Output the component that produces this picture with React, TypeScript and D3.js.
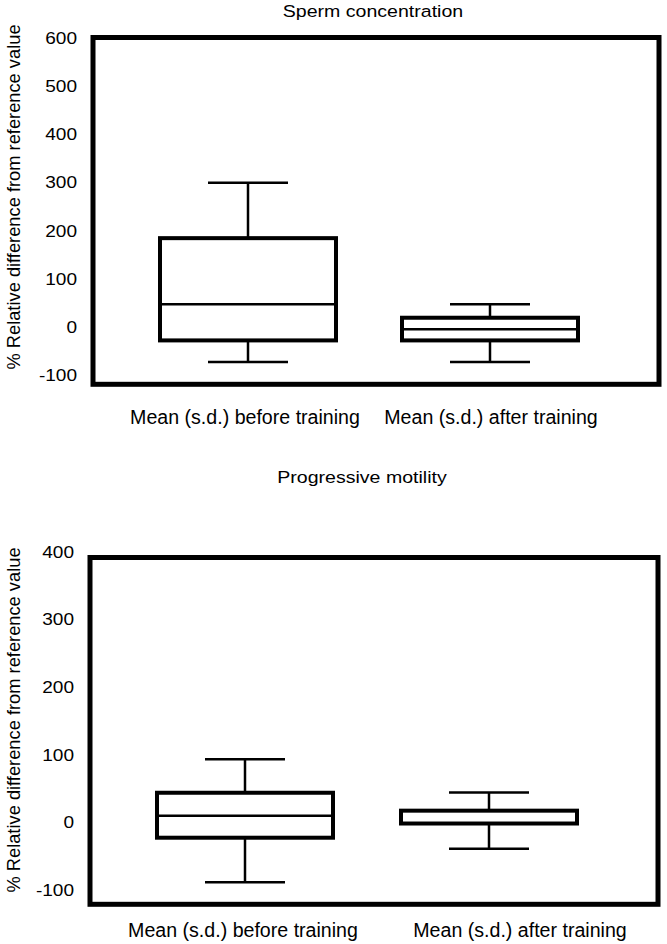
import * as d3 from 'd3';

// Categories shared by both panels
const CATEGORIES = ['Mean (s.d.) before training', 'Mean (s.d.) after training'];

// Sperm concentration (% relative difference from reference value)
const CONC_TICKS = [-100, 0, 100, 200, 300, 400, 500, 600];
const CONC_LOW = [-72, -72];
const CONC_Q1 = [-27, -27];
const CONC_MED = [48, -4];
const CONC_Q3 = [185, 20];
const CONC_HIGH = [300, 48];

// Progressive motility
const MOT_TICKS = [-100, 0, 100, 200, 300, 400];
const MOT_LOW = [-88.5, -39];
const MOT_Q1 = [-22.5, -1.5];
const MOT_MED = [10, -1.5];
const MOT_Q3 = [44, 17.5];
const MOT_HIGH = [93.5, 44.5];

const W = 667;
const H = 944;
const FONT = '"Liberation Sans", Arial, sans-serif';
const BOX_W = 176;
const CAP_W = 80;

type PanelProps = {
  title: string;
  titleX: number;
  titleY: number;
  frame: { x0: number; x1: number; y0: number; y1: number };
  domain: [number, number];
  ticks: number[];
  low: number[];
  q1: number[];
  med: number[];
  q3: number[];
  high: number[];
  labelY: number;
  labelShift: number[];
  yTitleY: number;
};

function Panel({
  title, titleX, titleY, frame, domain, ticks,
  low, q1, med, q3, high, labelY, labelShift, yTitleY,
}: PanelProps) {
  const y = d3.scaleLinear().domain(domain).range([frame.y1, frame.y0]);
  const x = d3.scalePoint<string>()
    .domain(CATEGORIES)
    .range([frame.x0 + 155, frame.x1 - 169]);

  return (
    <g>
      <text x={titleX} y={titleY} textAnchor="middle" fontSize={16.3}
        transform={`translate(${titleX},0) scale(1.2,1) translate(${-titleX},0)`}>
        {title}
      </text>

      <text
        transform={`translate(20,${yTitleY}) rotate(-90)`}
        textAnchor="middle"
        fontSize={18.3}
      >
        % Relative difference from reference value
      </text>

      {/* tick labels, no tick marks */}
      {ticks.map((t) => (
        <text key={t}
          transform={`translate(${frame.x0 - 16},${y(t) + 16 * 0.36}) scale(1.19,1)`}
          textAnchor="end" fontSize={16}>
          {t}
        </text>
      ))}

      {/* boxes */}
      {CATEGORIES.map((c, i) => {
        const cx = x(c) ?? 0;
        return (
          <g key={c} stroke="#000" fill="none">
            <line x1={cx} x2={cx} y1={y(q3[i])} y2={y(high[i])} strokeWidth={2.5} />
            <line x1={cx} x2={cx} y1={y(q1[i])} y2={y(low[i])} strokeWidth={2.5} />
            <line x1={cx - CAP_W / 2} x2={cx + CAP_W / 2} y1={y(high[i])} y2={y(high[i])} strokeWidth={2.5} />
            <line x1={cx - CAP_W / 2} x2={cx + CAP_W / 2} y1={y(low[i])} y2={y(low[i])} strokeWidth={2.5} />
            <rect x={cx - BOX_W / 2} y={y(q3[i])} width={BOX_W} height={y(q1[i]) - y(q3[i])}
              fill="#fff" strokeWidth={4} />
            <line x1={cx - BOX_W / 2} x2={cx + BOX_W / 2} y1={y(med[i])} y2={y(med[i])} strokeWidth={2.5} />
          </g>
        );
      })}

      {/* frame */}
      <rect x={frame.x0} y={frame.y0} width={frame.x1 - frame.x0} height={frame.y1 - frame.y0}
        fill="none" stroke="#000" strokeWidth={5} />

      {CATEGORIES.map((c, i) => (
        <text key={c} x={(x(c) ?? 0) + labelShift[i]} y={labelY} textAnchor="middle" fontSize={19.6}>
          {c}
        </text>
      ))}
    </g>
  );
}

export default function App() {
  return (
    <>
      <style>{'body{margin:0}'}</style>
      <svg width={W} height={H} style={{ display: 'block', background: '#fff' }}
        fontFamily={FONT} fill="#000">
        <Panel
          title="Sperm concentration"
          titleX={373}
          titleY={17}
          frame={{ x0: 93, x1: 659, y0: 37.5, y1: 384.3 }}
          domain={[-118, 601]}
          ticks={CONC_TICKS}
          low={CONC_LOW}
          q1={CONC_Q1}
          med={CONC_MED}
          q3={CONC_Q3}
          high={CONC_HIGH}
          labelY={424}
          labelShift={[-3, 1]}
          yTitleY={197}
        />
        <Panel
          title="Progressive motility"
          titleX={362}
          titleY={483}
          frame={{ x0: 90, x1: 658, y0: 557.5, y1: 904.3 }}
          domain={[-121, 392]}
          ticks={MOT_TICKS}
          low={MOT_LOW}
          q1={MOT_Q1}
          med={MOT_MED}
          q3={MOT_Q3}
          high={MOT_HIGH}
          labelY={937}
          labelShift={[-2, 31]}
          yTitleY={720}
        />
      </svg>
    </>
  );
}
